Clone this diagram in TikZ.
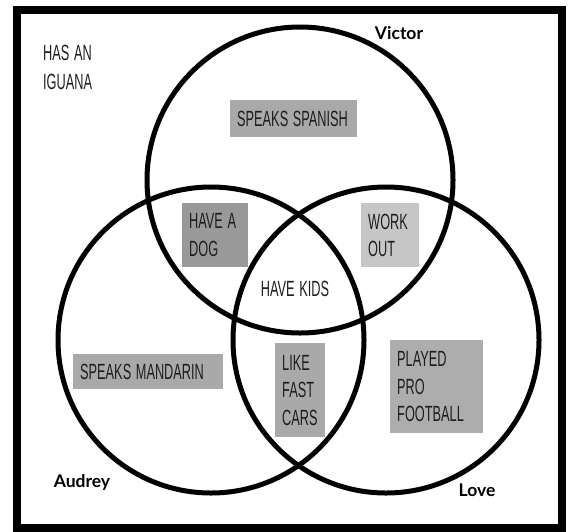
\documentclass[tikz,border=0pt]{standalone}
\usepackage{fontspec}
\usepackage{tikz}
\newfontfamily\labelfont{Lato}
\newfontfamily\handfont[FakeStretch=0.58,WordSpace=1.3]{Liberation Sans}
\definecolor{boxgray}{HTML}{A9A9A9}
\definecolor{dogGray}{HTML}{999999}
\definecolor{lightgray}{HTML}{C6C6C6}
\definecolor{ink}{HTML}{1E1E1E}

\begin{document}
\begin{tikzpicture}[x=1pt,y=-1pt,
    every node/.style={inner sep=0pt},
    set/.style={circle,draw=black,line width=5pt,minimum size=306pt},
    fact/.style={fill=boxgray,text=ink,align=flush left,inner xsep=7pt,anchor=north west,font=\handfont\fontsize{22}{27.5}\selectfont},
    plain/.style={text=ink,align=flush left,font=\handfont\fontsize{22}{28.5}\selectfont},
    person/.style={font=\labelfont\bfseries\fontsize{17.5}{20}\selectfont}]
    \useasboundingbox (0,0) rectangle (569,531);
    \draw[line width=8pt] (16.7,9.5) rectangle (562,527.5);

    \node[plain,anchor=west] (iguana) at (43,67.5) {HAS AN\\IGUANA};
    \node[fact,text width=113pt,minimum height=37pt] (spanish) at (230,100) {SPEAKS SPANISH};
    \node[fact,fill=dogGray,text width=52pt,minimum height=64pt] (dog) at (182,203) {HAVE A\\DOG};
    \node[fact,fill=lightgray,text width=44pt,minimum height=64pt] (workout) at (361,203) {WORK\\OUT};
    \node[plain] (kids) at (295,289) {HAVE KIDS};
    \node[fact,text width=136pt,minimum height=35pt] (mandarin) at (73,354) {SPEAKS MANDARIN};
    \node[fact,text width=36pt,minimum height=94pt] (cars) at (275,343) {LIKE\\FAST\\CARS};
    \node[fact,fill=boxgray!95,text width=79pt,minimum height=93pt] (football) at (390,340) {PLAYED\\PRO\\FOOTBALL};

    \node[set] (V) at (300,180) {};
    \node[set] (A) at (211,340) {};
    \node[set] (L) at (386,340) {};

    \node[person] (victor) at (399,33) {Victor};
    \node[person] (audrey) at (82,482) {Audrey};
    \node[person] (love) at (477,490) {Love};
\end{tikzpicture}
\end{document}
